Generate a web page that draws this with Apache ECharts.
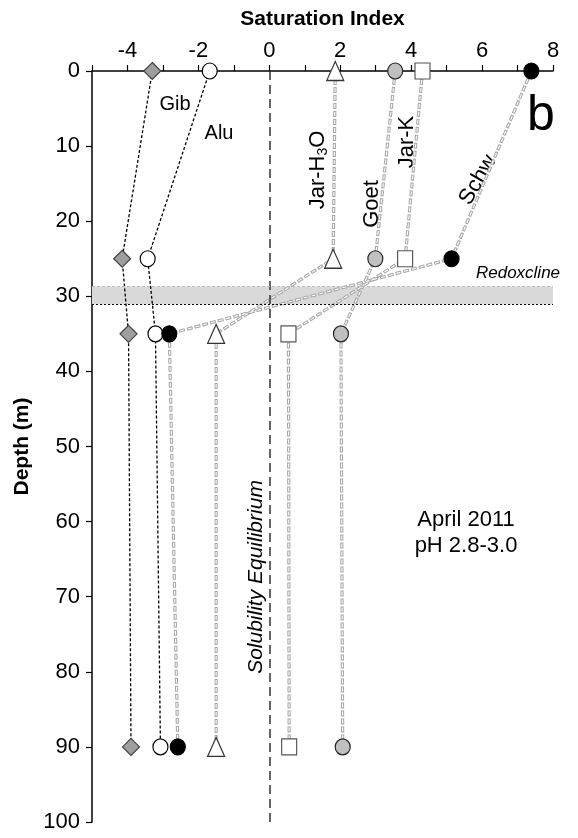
<!DOCTYPE html>
<html><head><meta charset="utf-8">
<script src="https://cdn.jsdelivr.net/npm/echarts@6/dist/echarts.min.js"></script>
<style>html,body{margin:0;padding:0;background:#fff}#c{width:578px;height:838px}</style>
</head><body><div id="c"></div>
<script>
const depths = [0, 25, 35, 90];
const gib = [-3.3, -4.15, -3.97, -3.9];
const alu = [-1.68, -3.43, -3.21, -3.07];
const jarH3O = [1.86, 1.80, -1.50, -1.50];
const goet = [3.55, 2.99, 2.02, 2.07];
const jarK = [4.32, 3.83, 0.54, 0.56];
const schw = [7.39, 5.14, -2.82, -2.58];
const xTicks = [-4, -2, 0, 2, 4, 6, 8];
const redox = [28.7, 31.1];

const F = 'Liberation Sans, Arial, sans-serif';
const pts = arr => arr.map((v, i) => [v, depths[i]]);

const blackLine = (d) => ({type:'line', data: pts(d), symbol:'none', silent:true,
  lineStyle:{color:'#000', width:1.3, type:[3,2]}, z:3});
const grayOuter = (d) => ({type:'line', data: pts(d), symbol:'none', silent:true,
  lineStyle:{color:'#a8a8a8', width:3.2, type:[6,2], cap:'butt'}, z:3});
const grayInner = (d) => ({type:'line', data: pts(d), symbol:'none', silent:true,
  lineStyle:{color:'#fff', width:1.1, type:[4,4], dashOffset:-1, cap:'butt'}, z:3});
const sym = (d, symbol, size, fill, border) => ({type:'scatter', data: pts(d), symbol, symbolSize:size,
  itemStyle:{color:fill, borderColor:border, borderWidth:1.2, opacity:1}, z:5});

const grayList = [jarH3O, goet, jarK, schw];
const series = [];
series.push({type:'line', data:[], silent:true,
  markArea:{silent:true, itemStyle:{color:'#d9d9d9'}, data:[[{yAxis:redox[0]},{yAxis:redox[1]}]]},
  markLine:{silent:true, symbol:'none', label:{show:false}, data:[
    {xAxis:0, lineStyle:{color:'#333', width:1.5, type:[9,5]}},
    {yAxis:redox[1], lineStyle:{color:'#000', width:1, type:[2,2]}},
    {yAxis:redox[0], lineStyle:{color:'#bbb', width:1, type:[3,2]}}
  ]}, z:1});
grayList.forEach(d => series.push(grayOuter(d)));
grayList.forEach(d => series.push(grayInner(d)));
series.push(blackLine(gib));
series.push(blackLine(alu));
series.push(sym(gib, 'diamond', [17,17], '#9e9e9e', '#444'));
series.push(sym(alu, 'circle', [15,16], '#fff', '#000'));
series.push(sym(schw, 'circle', [15,16], '#000', '#000'));
series.push(sym(jarH3O, 'triangle', [17,19], '#fff', '#333'));
series.push(sym(goet, 'circle', [15,16], '#c0c0c0', '#222'));
series.push(sym(jarK, 'rect', [15,16], '#fff', '#555'));

const txt = (text, x, y, size, opts) => Object.assign({type:'text', x, y,
  style:{text, font:size+'px '+F, fill:'#000', textAlign:'center', textVerticalAlign:'middle'}}, opts||{});

const chart = echarts.init(document.getElementById('c'), null, {renderer:'canvas'});
chart.setOption({
  animation:false,
  grid:{left:92, right:25, top:71, bottom:16},
  xAxis:{type:'value', position:'top', min:-5, max:8, interval:1,
    name:'Saturation Index', nameLocation:'middle', nameGap:41,
    nameTextStyle:{fontFamily:F, fontSize:21, fontWeight:'bold', color:'#000'},
    axisLine:{show:true, onZero:false, lineStyle:{color:'#000', width:1.5}},
    axisTick:{show:true, inside:false, length:6, lineStyle:{color:'#000', width:1.2}},
    axisLabel:{fontFamily:F, fontSize:22, color:'#000', margin:9,
      formatter:v => xTicks.includes(v) ? String(v) : ''},
    splitLine:{show:false}},
  yAxis:{type:'value', inverse:true, min:0, max:100, interval:10,
    name:'Depth (m)', nameLocation:'middle', nameGap:59,
    nameTextStyle:{fontFamily:F, fontSize:21, fontWeight:'bold', color:'#000'},
    axisLine:{show:true, onZero:false, lineStyle:{color:'#000', width:1.5}},
    axisTick:{show:true, inside:false, length:6, lineStyle:{color:'#000', width:1.2}},
    axisLabel:{fontFamily:F, fontSize:22, color:'#000', margin:12},
    splitLine:{show:false}},
  series,
  graphic:[
    txt('Gib', 175, 104, 20),
    txt('Alu', 219, 133, 20),
    {type:'text', x:318, y:170, rotation:Math.PI/2, style:{text:'{a|Jar-H}{s|3}{a|O}', textAlign:'center', textVerticalAlign:'middle',
      rich:{a:{font:'22px '+F, fill:'#000'}, s:{font:'14px '+F, fill:'#000', padding:[10,0,0,0]}}}},
    txt('Goet', 372, 204, 22, {rotation:Math.PI/2}),
    txt('Jar-K', 407, 142, 22, {rotation:Math.PI/2}),
    txt('Schw', 478, 180, 22, {rotation:Math.PI/3}),
    txt('b', 541, 116, 50),
    {type:'text', x:518, y:273, style:{text:'Redoxcline', font:'italic 17px '+F, fill:'#000', textAlign:'center', textVerticalAlign:'middle'}},
    txt('April 2011', 466, 520, 22),
    txt('pH 2.8-3.0', 466, 546, 22),
    {type:'text', x:256, y:577, rotation:Math.PI/2, style:{text:'Solubility Equilibrium', font:'italic 21px '+F, fill:'#000', textAlign:'center', textVerticalAlign:'middle'}}
  ]
});
</script></body></html>
